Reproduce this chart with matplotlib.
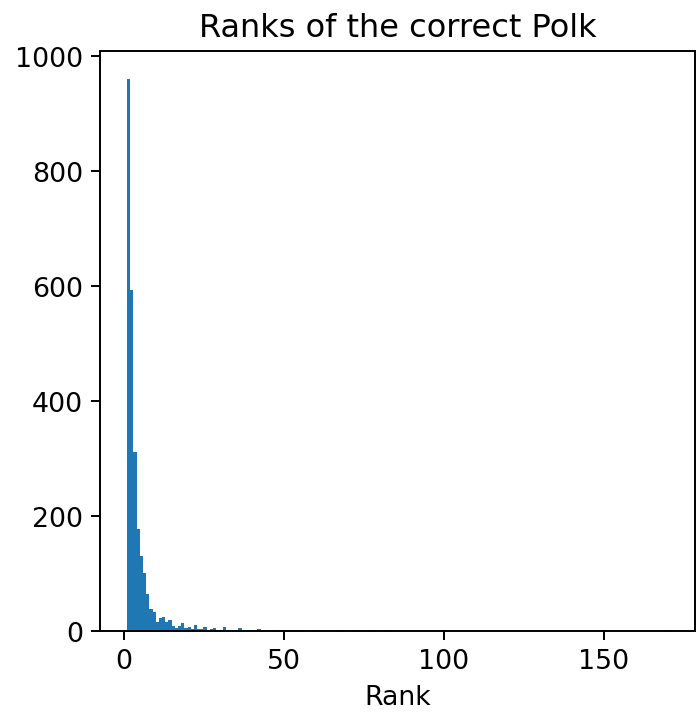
import matplotlib
matplotlib.use("Agg")
import matplotlib.pyplot as plt
from matplotlib.ticker import MultipleLocator

# rank of the correct answer -> how many times it came up
ranks = [1, 2, 3, 4, 5, 6, 7, 8, 9, 10,
         11, 12, 13, 14, 15, 16, 17, 18, 19, 20,
         21, 22, 23, 24, 25, 26, 27, 28, 29, 30,
         31, 32, 34, 35, 36, 37, 39, 40, 42, 47,
         48, 51, 55, 60, 67, 72, 78, 82, 170]
counts = [960, 592, 311, 178, 131, 101, 65, 38, 33, 16,
          23, 24, 16, 19, 9, 5, 9, 14, 5, 7,
          3, 10, 3, 3, 7, 1, 3, 5, 2, 2,
          7, 2, 2, 2, 5, 2, 2, 2, 3, 2,
          1, 2, 2, 2, 2, 2, 2, 2, 1]

n_bins = max(ranks)

plt.rcParams["font.size"] = 11

fig = plt.figure(figsize=(701 / 175, 720 / 175), dpi=175)
ax = fig.add_axes([100 / 701, 1 - 632 / 720, 595 / 701, 580 / 720])
ax.hist(ranks, bins=n_bins, range=(min(ranks), max(ranks)), weights=counts)
ax.xaxis.set_major_locator(MultipleLocator(50))
ax.set_title("Ranks of the correct Polk")
ax.set_xlabel("Rank")

fig.savefig("out.png", dpi=175)
